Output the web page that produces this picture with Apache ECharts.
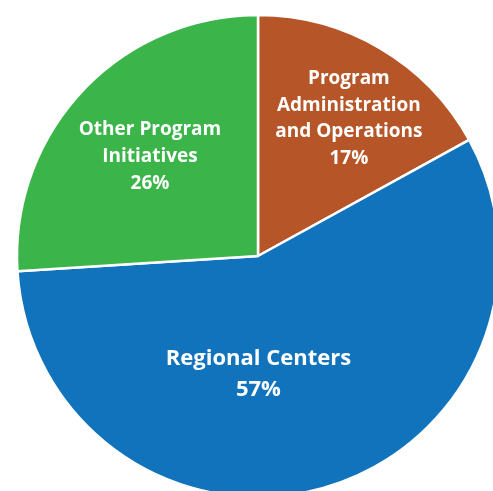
<!DOCTYPE html>
<html>
<head>
<meta charset="utf-8">
<script src="https://cdn.jsdelivr.net/npm/echarts@6/dist/echarts.min.js"></script>
<style>
  html, body { margin: 0; padding: 0; background: #fff; }
  #chart { width: 493px; height: 491px; }
</style>
</head>
<body>
<div id="chart"></div>
<script>
const categories = ['Program\nAdministration\nand Operations', 'Regional Centers', 'Other Program\nInitiatives']
const values = [17, 57, 26]
const colors = ['#b65628', '#1173bb', '#3bb54a']
// label nudges from the default inside position, [dx, dy]
const labelShift = [[28, -31], [-34, 0], [-18, -15]]
const labelSize = [19, 22, 19]
const labelLine = [26.5, 31, 27]

const chart = echarts.init(document.getElementById('chart'))

chart.setOption({
  animation: false,
  series: [
    {
      type: 'pie',
      center: [258, 256],
      radius: 241,
      startAngle: 90,
      clockwise: true,
      itemStyle: {
        borderColor: '#fff',
        borderWidth: 2.5,
      },
      label: {
        position: 'inside',
        color: '#fff',
        fontFamily: 'Open Sans',
        fontWeight: 'bold',
        formatter: '{b}\n{d}%',
      },
      labelLine: { show: false },
      labelLayout: function (params) {
        const s = labelShift[params.dataIndex]
        return { dx: s[0], dy: s[1] }
      },
      data: categories.map((name, i) => ({
        name,
        value: values[i],
        itemStyle: { color: colors[i] },
        label: {
          fontSize: labelSize[i],
          lineHeight: labelLine[i],
        },
      })),
    },
  ],
})
</script>
</body>
</html>
